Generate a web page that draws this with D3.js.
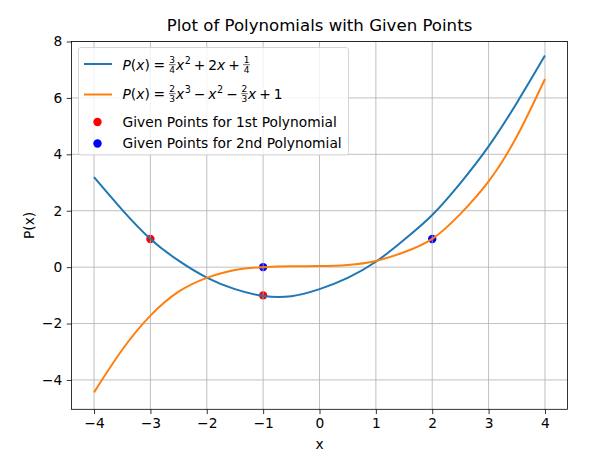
<!DOCTYPE html>
<html>
<head>
<meta charset="utf-8">
<script src="https://cdn.jsdelivr.net/npm/d3@7"></script>
<style>
  body { margin: 0; background: #fff; }
  text { font-family: "DejaVu Sans", sans-serif; fill: #000; }
</style>
</head>
<body>
<div id="chart"></div>
<script>
// values
var xs = [-4, -3.5, -3, -2.5, -2, -1.5, -1, -0.5, 0, 0.5, 1, 1.5, 2, 2.5, 3, 3.5, 4]
var quadVals = [3.19, 2.03, 1.0, 0.23, -0.37, -0.78, -1.02, -1.03, -0.78, -0.38, 0.19, 0.97, 1.85, 2.98, 4.28, 5.82, 7.5]
var cubicVals = [-4.44, -2.93, -1.72, -0.87, -0.38, -0.1, 0.0, 0.03, 0.04, 0.08, 0.22, 0.53, 1.0, 1.89, 3.04, 4.63, 6.67]
var redX = [-3, -1]
var redY = [1, -1]
var blueX = [-1, 2]
var blueY = [0, 1]
var xTicks = [-4, -3, -2, -1, 0, 1, 2, 3, 4]
var yTicks = [-4, -2, 0, 2, 4, 6, 8]

var width = 605
height = 453
// plot box (note: "top" is taken by window.top, so prefixed names)
var axL = 71.5, axR = 567.5, axT = 41.5, axB = 409.3
var fs = 13.8

var svg = d3.select("#chart")
    .append("svg")
    .attr("width", width)
    .attr("height", height)

var x = d3.scaleLinear().domain([-4.4, 4.4]).range([axL, axR])
var y = d3.scaleLinear().domain([-5.04, 8.0]).range([axB, axT])

var fmt = function (d) { return d < 0 ? "\u2212" + Math.abs(d) : "" + d }

// scatter sits under the grid, like matplotlib does it
var dots = svg.append("g")
dots.selectAll(".red").data(redX).enter().append("circle")
    .attr("cx", function (d) { return x(d) })
    .attr("cy", function (d, i) { return y(redY[i]) })
    .attr("r", 4.2).style("fill", "red")
dots.selectAll(".blue").data(blueX).enter().append("circle")
    .attr("cx", function (d) { return x(d) })
    .attr("cy", function (d, i) { return y(blueY[i]) })
    .attr("r", 4.2).style("fill", "blue")

// grid
var grid = svg.append("g").style("stroke", "#b0b0b0").style("stroke-width", 0.8)
grid.selectAll(".gx").data(xTicks).enter().append("line")
    .attr("x1", function (d) { return x(d) }).attr("x2", function (d) { return x(d) })
    .attr("y1", axT).attr("y2", axB)
grid.selectAll(".gy").data(yTicks).enter().append("line")
    .attr("y1", function (d) { return y(d) }).attr("y2", function (d) { return y(d) })
    .attr("x1", axL).attr("x2", axR)

// curves
var line = d3.line()
    .x(function (d) { return x(d[0]) })
    .y(function (d) { return y(d[1]) })
    .curve(d3.curveNatural)
svg.append("path").datum(xs.map(function (v, i) { return [v, quadVals[i]] }))
    .attr("d", line).style("fill", "none").style("stroke", "#1f77b4").style("stroke-width", 2)
svg.append("path").datum(xs.map(function (v, i) { return [v, cubicVals[i]] }))
    .attr("d", line).style("fill", "none").style("stroke", "#ff7f0e").style("stroke-width", 2)

// axes
var xAxis = svg.append("g").attr("transform", "translate(0," + axB + ")")
    .call(d3.axisBottom(x).tickValues(xTicks).tickFormat(fmt).tickSize(4.8).tickPadding(4.5))
var yAxis = svg.append("g").attr("transform", "translate(" + axL + ",0)")
    .call(d3.axisLeft(y).tickValues(yTicks).tickFormat(fmt).tickSize(4.8).tickPadding(4.5))
;[xAxis, yAxis].forEach(function (a) {
    a.select(".domain").remove()
    a.selectAll("line").style("stroke", "#000").style("stroke-width", 0.8)
    a.selectAll("text").style("font-size", fs + "px").style("font-family", "DejaVu Sans")
})
svg.append("rect").attr("x", axL).attr("y", axT).attr("width", axR - axL).attr("height", axB - axT)
    .style("fill", "none").style("stroke", "#000").style("stroke-width", 0.8)

// labels
svg.append("text").attr("x", (axL + axR) / 2).attr("y", 30.5).attr("text-anchor", "middle")
    .text("Plot of Polynomials with Given Points").style("font-size", "16.6px")
svg.append("text").attr("x", (axL + axR) / 2).attr("y", 448.5).attr("text-anchor", "middle")
    .text("x").style("font-size", fs + "px")
svg.append("text").attr("transform", "translate(33.5," + (axT + axB) / 2 + ") rotate(-90)")
    .attr("text-anchor", "middle").text("P(x)").style("font-size", fs + "px")

// Handmade legend
var lg = svg.append("g")
lg.append("rect").attr("x", 78.5).attr("y", 47.5).attr("width", 270).attr("height", 107.5).attr("rx", 2.5)
    .style("fill", "#fff").style("fill-opacity", 0.8).style("stroke", "#cccccc").style("stroke-width", 0.8)
lg.append("line").attr("x1", 84).attr("x2", 112).attr("y1", 64).attr("y2", 64).style("stroke", "#1f77b4").style("stroke-width", 2)
lg.append("line").attr("x1", 84).attr("x2", 112).attr("y1", 94.5).attr("y2", 94.5).style("stroke", "#ff7f0e").style("stroke-width", 2)
lg.append("circle").attr("cx", 97.5).attr("cy", 122).attr("r", 4.2).style("fill", "red")
lg.append("circle").attr("cx", 97.5).attr("cy", 143.5).attr("r", 4.2).style("fill", "blue")
lg.append("text").attr("x", 122.5).attr("y", 126.8).text("Given Points for 1st Polynomial").style("font-size", fs + "px")
lg.append("text").attr("x", 122.5).attr("y", 148.3).text("Given Points for 2nd Polynomial").style("font-size", fs + "px")

// little mathtext setter
function mathText(g, x0, base, parts) {
    var cx = x0
    parts.forEach(function (p) {
        if (p.gap) cx += p.gap
        if (p.num) {
            var n = g.append("text").attr("y", base - 6.6).text(p.num).style("font-size", "9px").attr("text-anchor", "middle")
            var d = g.append("text").attr("y", base + 3.0).text(p.den).style("font-size", "9px").attr("text-anchor", "middle")
            var w = Math.max(n.node().getComputedTextLength(), d.node().getComputedTextLength()) + 1.6
            n.attr("x", cx + w / 2)
            d.attr("x", cx + w / 2)
            g.append("line").attr("x1", cx + 0.3).attr("x2", cx + w - 0.3).attr("y1", base - 4.8).attr("y2", base - 4.8)
                .style("stroke", "#000").style("stroke-width", 0.6)
            cx += w
        } else {
            var t = g.append("text").attr("x", cx).attr("y", p.sup ? base - 5.8 : base).text(p.s)
                .style("font-size", p.sup ? "9.6px" : fs + "px").style("font-style", p.it ? "italic" : "normal")
            cx += t.node().getComputedTextLength()
        }
    })
}
var op = 3.0, rel = 3.6
mathText(lg, 122.5, 69.5, [
    { s: "P", it: true }, { s: "(" }, { s: "x", it: true }, { s: ")" },
    { s: "=", gap: rel }, { num: "3", den: "4", gap: rel }, { s: "x", it: true }, { s: "2", sup: true, gap: 0.6 },
    { s: "+", gap: op }, { s: "2", gap: op }, { s: "x", it: true }, { s: "+", gap: op }, { num: "1", den: "4", gap: op }
])
mathText(lg, 122.5, 98.5, [
    { s: "P", it: true }, { s: "(" }, { s: "x", it: true }, { s: ")" },
    { s: "=", gap: rel }, { num: "2", den: "3", gap: rel }, { s: "x", it: true }, { s: "3", sup: true, gap: 0.6 },
    { s: "\u2212", gap: op }, { s: "x", it: true, gap: op }, { s: "2", sup: true, gap: 0.6 },
    { s: "\u2212", gap: op }, { num: "2", den: "3", gap: op }, { s: "x", it: true }, { s: "+", gap: op }, { s: "1", gap: op }
])
</script>
</body>
</html>
